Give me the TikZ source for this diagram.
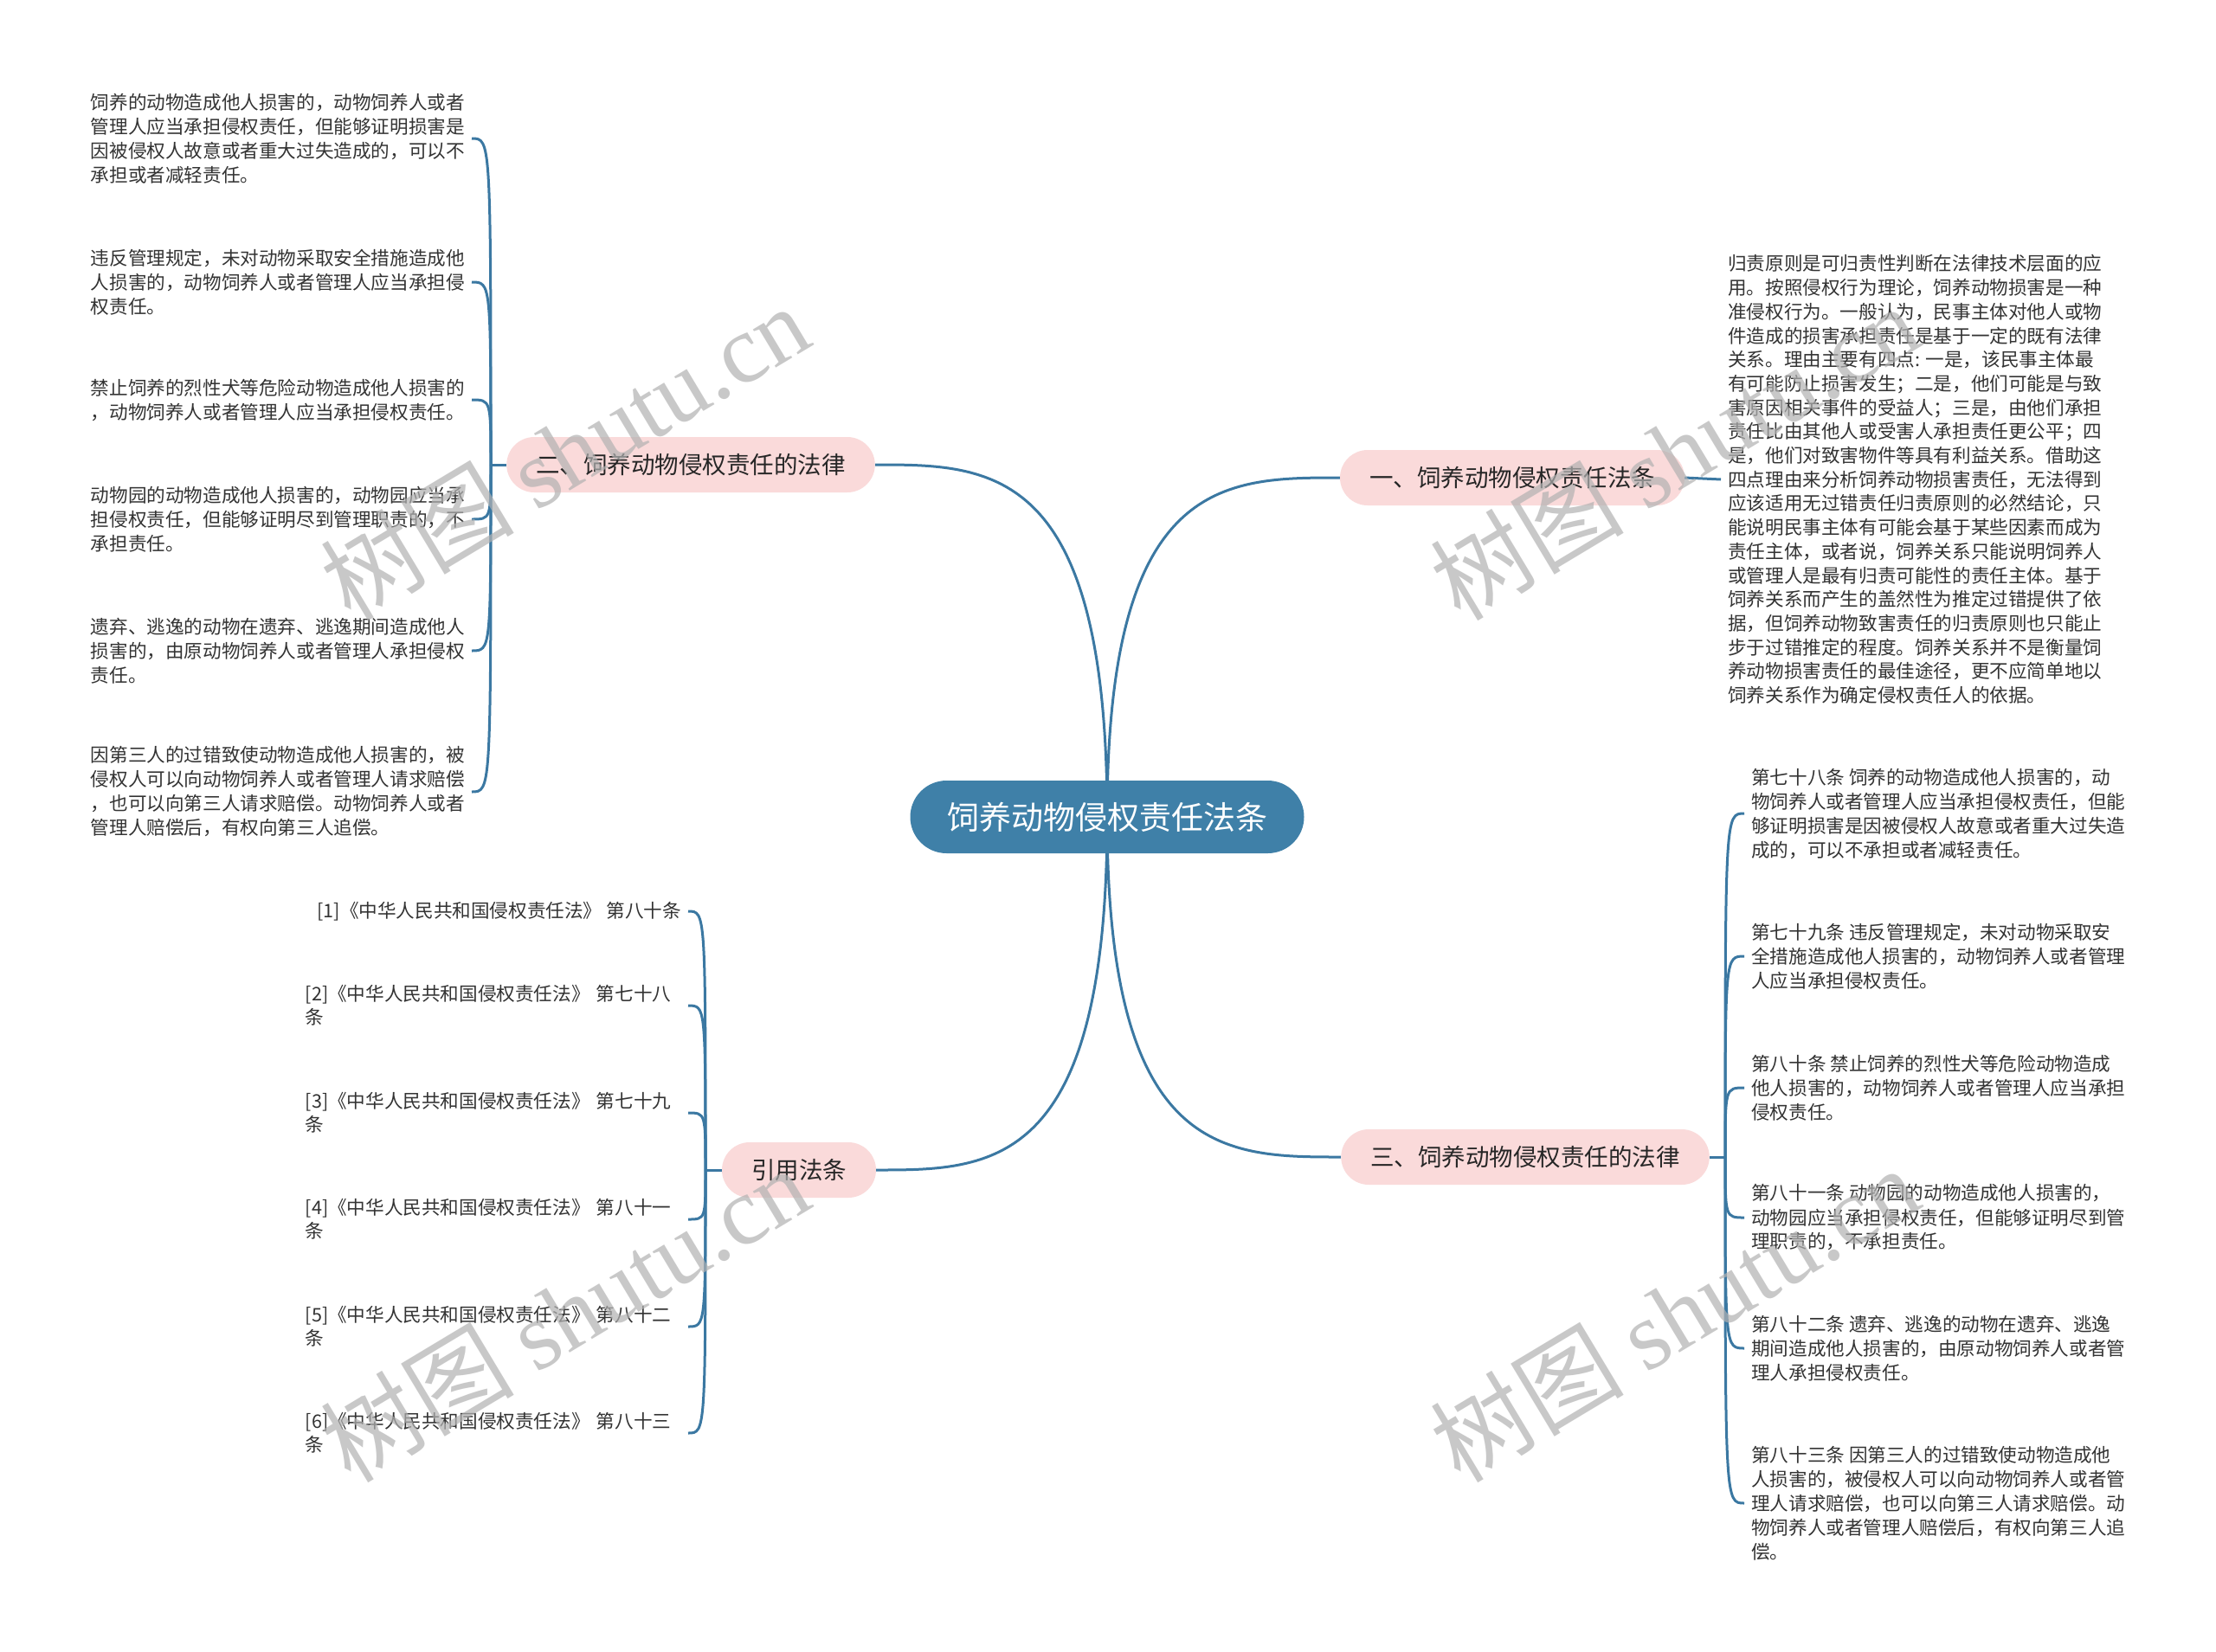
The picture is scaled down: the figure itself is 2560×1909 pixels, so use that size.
\documentclass[tikz,border=0pt]{standalone}
\usepackage{fontspec}
\setmainfont{Noto Sans CJK SC}
\newfontfamily\wmlatin{Liberation Serif}
\usetikzlibrary{calc,backgrounds}
\definecolor{lineblue}{HTML}{3B78A2}
\definecolor{rootblue}{HTML}{3F80A8}
\definecolor{branchpink}{HTML}{FADADA}
\definecolor{txt}{HTML}{333333}
\begin{document}
\begin{tikzpicture}[x=1pt,y=-1pt,
 conn/.style={draw=lineblue,line width=3pt},
 root/.style={fill=rootblue,text=white,rounded corners=42pt,minimum height=84pt,minimum width=455pt,inner sep=0pt,font=\fontsize{37}{44}\selectfont},
 branch/.style={fill=branchpink,text=black!85,rounded corners=32pt,minimum height=64pt,inner xsep=34pt,inner ysep=0pt,font=\fontsize{27.5}{33}\selectfont},
 leaf/.style={text=txt,align=left,inner xsep=8pt,inner ysep=2pt,font=\fontsize{21.6}{28}\selectfont},
 para/.style={leaf,font=\fontsize{21.6}{27.7}\selectfont},
 cite/.style={leaf,font=\fontsize{21.6}{27.3}\selectfont},
 wm/.style={text=black!30,text opacity=0.7,rotate=31,inner sep=0pt,font=\fontsize{112}{120}\selectfont}
]
\useasboundingbox (0,0) rectangle (2560,1909);

% root and branches
\node[root] (root) at (1279,944) {饲养动物侵权责任法条};
\node[branch] (b1) at (1747,552) {一、饲养动物侵权责任法条};
\node[branch] (b2) at (798,537) {二、饲养动物侵权责任的法律};
\node[branch] (b3) at (1762,1337) {三、饲养动物侵权责任的法律};
\node[branch] (b4) at (923,1352) {引用法条};

\coordinate (a2) at (567,537);
\coordinate (a3) at (1993,1337);
\coordinate (a4) at (815,1352);

% branch 二 leaves
\node[leaf,anchor=east] (L1) at (545,160) {饲养的动物造成他人损害的，动物饲养人或者\\管理人应当承担侵权责任，但能够证明损害是\\因被侵权人故意或者重大过失造成的，可以不\\承担或者减轻责任。};
\node[leaf,anchor=east] (L2) at (545,326) {违反管理规定，未对动物采取安全措施造成他\\人损害的，动物饲养人或者管理人应当承担侵\\权责任。};
\node[leaf,anchor=east] (L3) at (545,462) {禁止饲养的烈性犬等危险动物造成他人损害的\\，动物饲养人或者管理人应当承担侵权责任。};
\node[leaf,anchor=east] (L4) at (545,600) {动物园的动物造成他人损害的，动物园应当承\\担侵权责任，但能够证明尽到管理职责的，不\\承担责任。};
\node[leaf,anchor=east] (L5) at (545,752) {遗弃、逃逸的动物在遗弃、逃逸期间造成他人\\损害的，由原动物饲养人或者管理人承担侵权\\责任。};
\node[leaf,anchor=east] (L6) at (545,915) {因第三人的过错致使动物造成他人损害的，被\\侵权人可以向动物饲养人或者管理人请求赔偿\\，也可以向第三人请求赔偿。动物饲养人或者\\管理人赔偿后，有权向第三人追偿。};

% branch 一 paragraph
\node[para,anchor=west] (T1) at (1988,554) {归责原则是可归责性判断在法律技术层面的应\\用。按照侵权行为理论，饲养动物损害是一种\\准侵权行为。一般认为，民事主体对他人或物\\件造成的损害承担责任是基于一定的既有法律\\关系。理由主要有四点: 一是，该民事主体最\\有可能防止损害发生；二是，他们可能是与致\\害原因相关事件的受益人；三是，由他们承担\\责任比由其他人或受害人承担责任更公平；四\\是，他们对致害物件等具有利益关系。借助这\\四点理由来分析饲养动物损害责任，无法得到\\应该适用无过错责任归责原则的必然结论，只\\能说明民事主体有可能会基于某些因素而成为\\责任主体，或者说，饲养关系只能说明饲养人\\或管理人是最有归责可能性的责任主体。基于\\饲养关系而产生的盖然性为推定过错提供了依\\据，但饲养动物致害责任的归责原则也只能止\\步于过错推定的程度。饲养关系并不是衡量饲\\养动物损害责任的最佳途径，更不应简单地以\\饲养关系作为确定侵权责任人的依据。};

% branch 三 leaves
\node[leaf,anchor=west] (R1) at (2015,940) {第七十八条 饲养的动物造成他人损害的，动\\物饲养人或者管理人应当承担侵权责任，但能\\够证明损害是因被侵权人故意或者重大过失造\\成的，可以不承担或者减轻责任。};
\node[leaf,anchor=west] (R2) at (2015,1105) {第七十九条 违反管理规定，未对动物采取安\\全措施造成他人损害的，动物饲养人或者管理\\人应当承担侵权责任。};
\node[leaf,anchor=west] (R3) at (2015,1257) {第八十条 禁止饲养的烈性犬等危险动物造成\\他人损害的，动物饲养人或者管理人应当承担\\侵权责任。};
\node[leaf,anchor=west] (R4) at (2015,1407) {第八十一条 动物园的动物造成他人损害的，\\动物园应当承担侵权责任，但能够证明尽到管\\理职责的，不承担责任。};
\node[leaf,anchor=west] (R5) at (2015,1558) {第八十二条 遗弃、逃逸的动物在遗弃、逃逸\\期间造成他人损害的，由原动物饲养人或者管\\理人承担侵权责任。};
\node[leaf,anchor=west] (R6) at (2015,1737) {第八十三条 因第三人的过错致使动物造成他\\人损害的，被侵权人可以向动物饲养人或者管\\理人请求赔偿，也可以向第三人请求赔偿。动\\物饲养人或者管理人赔偿后，有权向第三人追\\偿。};

% citations
\node[cite,anchor=east] (C1) at (795,1053) {[1]《中华人民共和国侵权责任法》 第八十条};
\node[cite,anchor=east,text width=434pt] (C2) at (795,1162) {[2]《中华人民共和国侵权责任法》 第七十八\\条};
\node[cite,anchor=east,text width=434pt] (C3) at (795,1286) {[3]《中华人民共和国侵权责任法》 第七十九\\条};
\node[cite,anchor=east,text width=434pt] (C4) at (795,1409) {[4]《中华人民共和国侵权责任法》 第八十一\\条};
\node[cite,anchor=east,text width=434pt] (C5) at (795,1533) {[5]《中华人民共和国侵权责任法》 第八十二\\条};
\node[cite,anchor=east,text width=434pt] (C6) at (795,1656) {[6]《中华人民共和国侵权责任法》 第八十三\\条};

\begin{scope}[on background layer]
\fill[white] (0,0) rectangle (2560,1909);
% root to branches
\draw[conn] (root.center) .. controls (root.center |- b2.east) and ($(b2.east)!0.5!(root.center |- b2.east)$) .. (b2.east);
\draw[conn] (root.center) .. controls (root.center |- b1.west) and ($(b1.west)!0.5!(root.center |- b1.west)$) .. (b1.west);
\draw[conn] (root.center) .. controls (root.center |- b4.east) and ($(b4.east)!0.5!(root.center |- b4.east)$) .. (b4.east);
\draw[conn] (root.center) .. controls (root.center |- b3.west) and ($(b3.west)!0.5!(root.center |- b3.west)$) .. (b3.west);
% branch stubs
\draw[conn] (b2.west) -- (a2);
\draw[conn] (b3.east) -- (a3);
\draw[conn] (b4.west) -- (a4);
\draw[conn] (b1.east) -- (T1.west);
% leaf curves
\foreach \n in {L1,L2,L3,L4,L5,L6}
  \draw[conn] (a2) .. controls (a2 |- \n.east) and (a2 |- \n.east) .. (\n.east);
\foreach \n in {R1,R2,R3,R4,R5,R6}
  \draw[conn] (a3) .. controls (a3 |- \n.west) and (a3 |- \n.west) .. (\n.west);
\foreach \n in {C1,C2,C3,C4,C5,C6}
  \draw[conn] (a4) .. controls (a4 |- \n.east) and (a4 |- \n.east) .. (\n.east);
\end{scope}

% watermarks
\node[wm] (w1) at (652,522) {树图 {\wmlatin shutu.cn}};
\node[wm] (w2) at (1934,522) {树图 {\wmlatin shutu.cn}};
\node[wm] (w3) at (652,1518) {树图 {\wmlatin shutu.cn}};
\node[wm] (w4) at (1934,1518) {树图 {\wmlatin shutu.cn}};
\end{tikzpicture}
\end{document}
